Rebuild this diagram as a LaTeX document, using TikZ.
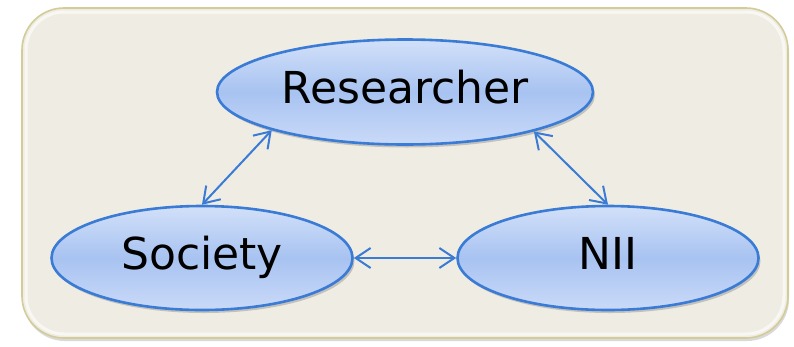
\documentclass[tikz,border=0pt]{standalone}
\usepackage{fontspec}
\setmainfont{DejaVu Sans}
\usetikzlibrary{shapes.geometric,arrows.meta,shadows}
\definecolor{bgfill}{HTML}{EFEDE3}
\definecolor{bgdraw}{HTML}{D3CC98}
\definecolor{elldraw}{HTML}{3A7BD5}
\definecolor{elltop}{HTML}{D2E0F9}
\definecolor{ellmid}{HTML}{A8C3F1}
\definecolor{ellbot}{HTML}{CADAF8}
\definecolor{arrcol}{HTML}{3A7BD5}
\tikzset{
  bubble/.style={ellipse, draw=elldraw, line width=2.6pt, inner sep=0pt,
    top color=elltop, bottom color=ellbot, middle color=ellmid,
    drop shadow={shadow xshift=2pt, shadow yshift=-3pt, opacity=0.4},
    font=\fontsize{44}{50}\selectfont, text height=33pt, text depth=10pt},
  link/.style={line width=2pt, draw=arrcol,
    {Straight Barb[length=15pt,width=20pt]}-{Straight Barb[length=15pt,width=20pt]}}
}
\begin{document}
\begin{tikzpicture}[x=1pt,y=-1pt]
\useasboundingbox (0,0) rectangle (794,346);
\path[fill=bgfill, draw=bgdraw, line width=1.6pt, rounded corners=42pt,
  drop shadow={shadow xshift=1pt, shadow yshift=-3pt, opacity=0.3}]
  (22,8) rectangle (788,338);
\path[draw=white, draw opacity=0.6, line width=3pt, rounded corners=38pt]
  (26,12) rectangle (784,334);
\node[bubble, minimum width=376pt, minimum height=105pt] (res) at (405,92) {Researcher};
\node[bubble, minimum width=301pt, minimum height=104pt] (soc) at (202,258) {Society};
\node[bubble, minimum width=301pt, minimum height=104pt] (nii) at (608,258) {NII};
\draw[link] (res.196.5) -- (soc.north);
\draw[link] (res.343.5) -- (nii.north);
\draw[link] (soc.east) -- (nii.west);
\end{tikzpicture}
\end{document}
